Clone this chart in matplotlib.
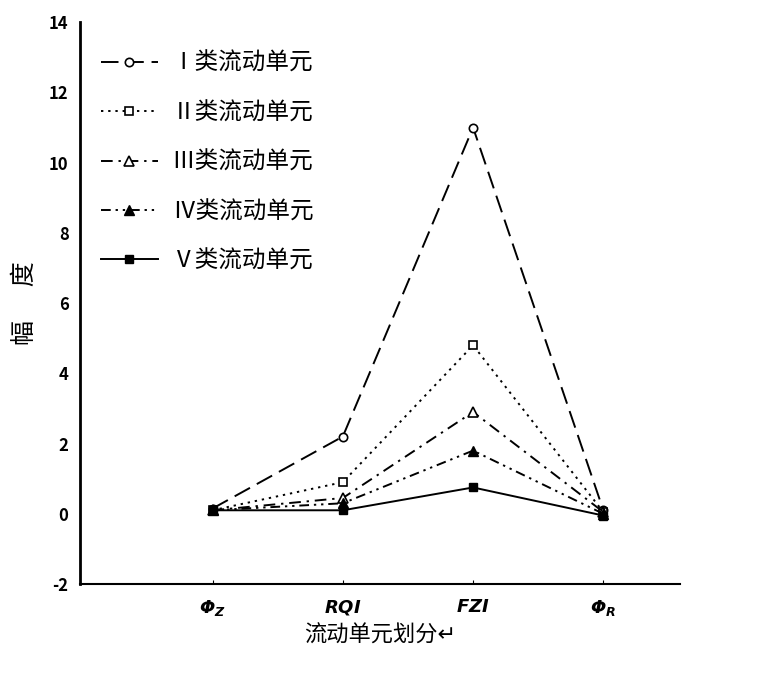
import matplotlib
matplotlib.use("Agg")
import matplotlib.pyplot as plt

plt.rcParams['font.family'] = ['Noto Sans CJK SC', 'DejaVu Sans']

categories = [r"$\mathbfit{\Phi_Z}$", r"$\mathbfit{RQI}$", r"$\mathbfit{FZI}$", r"$\mathbfit{\Phi_R}$"]
labels = ["Ⅰ类流动单元", "Ⅱ类流动单元", "Ⅲ类流动单元", "Ⅳ类流动单元", "Ⅴ类流动单元"]
vals_1 = [0.15, 2.2, 11.0, 0.1]
vals_2 = [0.1, 0.9, 4.8, 0.05]
vals_3 = [0.1, 0.45, 2.9, 0.05]
vals_4 = [0.1, 0.3, 1.8, 0.0]
vals_5 = [0.1, 0.1, 0.75, -0.05]
yticks = [-2, 0, 2, 4, 6, 8, 10, 12, 14]

fig = plt.figure(figsize=(7.66, 6.74), dpi=100)
ax = fig.add_axes([0.104, 0.1335, 0.784, 0.8335])

x = list(range(len(categories)))
ax.plot(x, vals_1, color="black", lw=1.4, linestyle=(0, (9, 4)), marker="o", ms=6, mfc="white", mew=1.2, label=labels[0])
ax.plot(x, vals_2, color="black", lw=1.4, linestyle=(0, (1.2, 2.5)), marker="s", ms=6, mfc="white", mew=1.2, label=labels[1])
ax.plot(x, vals_3, color="black", lw=1.4, linestyle=(0, (6, 3, 1.2, 3)), marker="^", ms=7, mfc="white", mew=1.2, label=labels[2])
ax.plot(x, vals_4, color="black", lw=1.4, linestyle=(0, (5, 2.5, 1.2, 2.5, 1.2, 2.5)), marker="^", ms=7, mfc="black", label=labels[3])
ax.plot(x, vals_5, color="black", lw=1.4, linestyle="-", marker="s", ms=6, mfc="black", label=labels[4])

ax.set_xlim(-1.02, 3.59)
ax.set_ylim(-2, 14)
ax.set_xticks(x)
ax.set_xticklabels(categories, fontsize=13)
ax.set_yticks(yticks)
ax.set_yticklabels([str(t) for t in yticks], fontsize=12, fontweight="bold")
ax.tick_params(axis="y", length=0, pad=8)
ax.tick_params(axis="x", length=3, direction="in", pad=10)
for side in ["top", "right"]:
    ax.spines[side].set_visible(False)
ax.spines["left"].set_linewidth(2)
ax.spines["bottom"].set_linewidth(1.5)

ax.set_ylabel("幅      度", fontsize=18, labelpad=8)
ax.set_xlabel("流动单元划分↵", fontsize=16, labelpad=4)

leg = ax.legend(loc="upper left", bbox_to_anchor=(0.0, 0.985), frameon=False, fontsize=17,
                handlelength=2.4, labelspacing=1.12, handletextpad=0.6)

fig.savefig("out.png", dpi=100)
